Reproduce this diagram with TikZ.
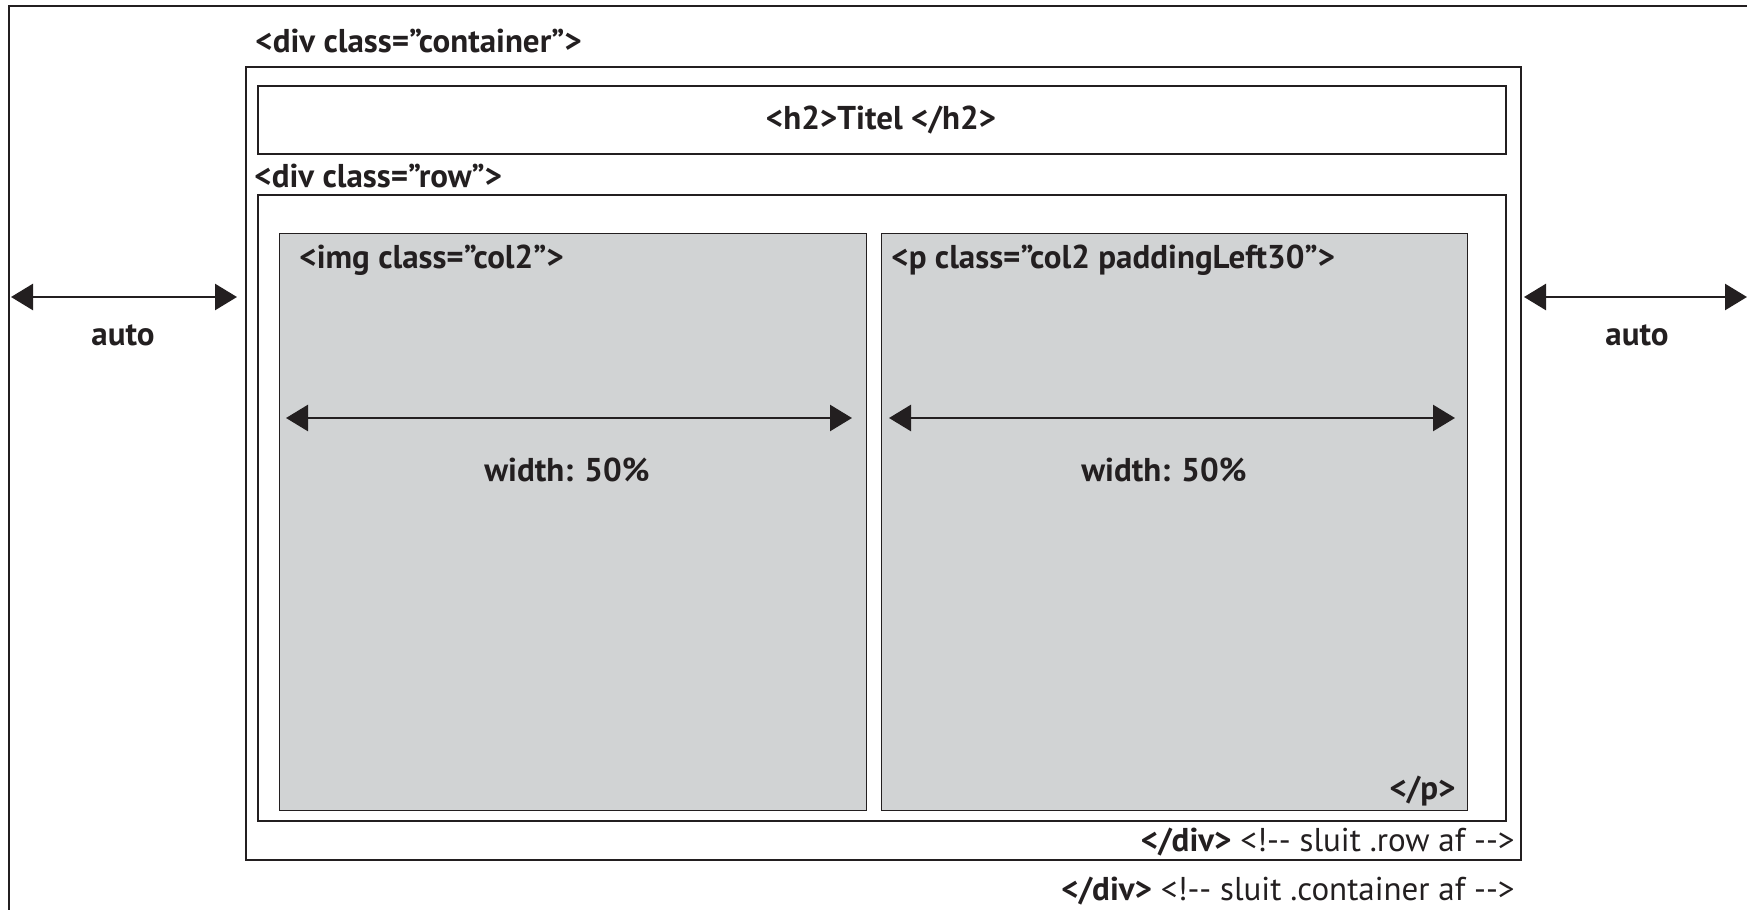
\documentclass[tikz,border=0pt]{standalone}
\usepackage{fontspec}
\setmainfont{PT Sans}
\usetikzlibrary{arrows.meta}
\definecolor{ink}{HTML}{231F20}
\definecolor{colgray}{HTML}{D1D3D4}
\begin{document}
\begin{tikzpicture}[x=0.5pt,y=-0.5pt,
  box/.style={draw=ink,line width=1pt},
  colbox/.style={draw=ink,fill=colgray,line width=0.5pt},
  tag/.style={text=ink,font=\bfseries\fontsize{16.5}{20}\selectfont,inner sep=0pt},
  note/.style={text=ink,font=\fontsize{16.5}{20}\selectfont,inner sep=0pt},
  dim/.style={draw=ink,line width=1.3pt,{Triangle[length=11pt,width=13pt]}-{Triangle[length=11pt,width=13pt]}}]
\useasboundingbox (0,0) rectangle (1747,910);
\draw [ink,line width=1.2pt] (9,910) -- (9,6) -- (1747,6);
\draw [box] (246,67) rectangle (1521,860);
\draw [box] (258,86) rectangle (1506,154);
\draw [box] (258,195) rectangle (1506,821);
\draw [colbox] (279,233) rectangle (866,810);
\draw [colbox] (881,233) rectangle (1467,810);
\node [tag,anchor=west] (container) at (255,41) {<div class=”container”>};
\node [tag] (titel) at (881,120) {<h2>Titel </h2>};
\node [tag,anchor=west] (row) at (254,176) {<div class=”row”>};
\node [tag,anchor=west] (img) at (299,260) {<img class=”col2”>};
\node [tag,anchor=west] (para) at (891,260) {<p class=”col2 paddingLeft30”>};
\node [tag,anchor=east] (pclose) at (1456,791) {</p>};
\node [note,anchor=east] (rowclose) at (1515,842) {\textbf{</div>} <!-{}- sluit .row af -{}->};
\node [note,anchor=east] (contclose) at (1515,891) {\textbf{</div>} <!-{}- sluit .container af -{}->};
\coordinate (la) at (11,297);
\coordinate (lb) at (237,297);
\coordinate (ra) at (1524,297);
\coordinate (rb) at (1747,297);
\coordinate (ia) at (286,418);
\coordinate (ib) at (852,418);
\coordinate (pa) at (889,418);
\coordinate (pb) at (1455,418);
\draw [dim] (la) -- (lb);
\draw [dim] (ra) -- (rb);
\draw [dim] (ia) -- (ib);
\draw [dim] (pa) -- (pb);
\node [tag] (lauto) at (123,335) {auto};
\node [tag] (rauto) at (1637,335) {auto};
\node [tag] (iwidth) at (567,470) {width: 50\%};
\node [tag] (pwidth) at (1164,470) {width: 50\%};
\end{tikzpicture}
\end{document}
